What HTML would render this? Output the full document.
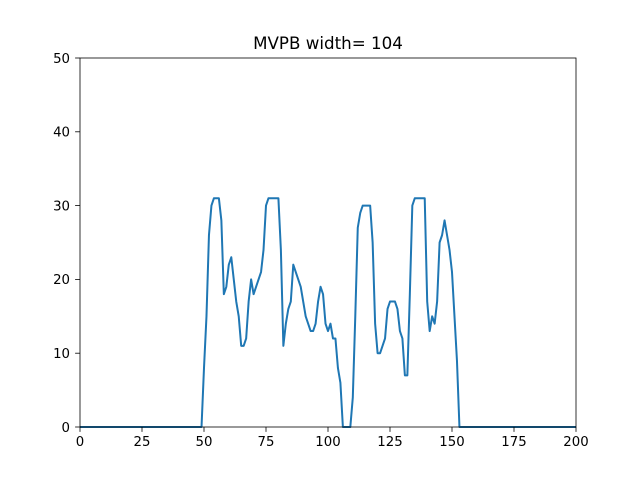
<!DOCTYPE html>
<html><head><meta charset="utf-8"><style>body{margin:0;background:#fff}svg{display:block;font-family:"DejaVu Sans","Liberation Sans",sans-serif}</style></head>
<body>
<svg id="chart" width="640" height="480">
<rect width="640" height="480" fill="#fff"/>
<text x="328" y="49" text-anchor="middle" font-size="16.7">MVPB width= 104</text>
<g id="axes"></g>
</svg>
<script>
const xTicks=[0,25,50,75,100,125,150,175,200];
const yTicks=[0,10,20,30,40,50];
const startX=49;
const values=[0,8,15,26,30,31,31,31,28,18,19,22,23,20,17,15,11,11,12,17,20,18,19,20,21,24,30,31,31,31,31,31,24,11,14,16,17,22,21,20,19,17,15,14,13,13,14,17,19,18,14,13,14,12,12,8,6,0,0,0,0,4,15,27,29,30,30,30,30,25,14,10,10,11,12,16,17,17,17,16,13,12,7,7,18,30,31,31,31,31,31,17,13,15,14,17,25,26,28,26,24,21,15,9,0];
const L=80,R=576,T=58,B=427;
const sx=v=>L+(v-0)/200*(R-L);
const sy=v=>B-(v/50)*(B-T);
const NS="http://www.w3.org/2000/svg";
const g=document.getElementById('axes');
function mk(t,a){const e=document.createElementNS(NS,t);for(const k in a)e.setAttribute(k,a[k]);g.appendChild(e);return e;}
let pts=[];
for(let x=0;x<startX;x++)pts.push([sx(x),sy(0)]);
values.forEach((v,i)=>pts.push([sx(startX+i),sy(v)]));
for(let x=startX+values.length;x<=200;x++)pts.push([sx(x),sy(0)]);
const line=mk('polyline',{points:pts.map(p=>p.join(',')).join(' '),fill:'none',stroke:'#1f77b4','stroke-width':2,'stroke-linejoin':'round'});


const frame=mk('rect',{x:L,y:T,width:R-L,height:B-T,fill:'none',stroke:'#000','stroke-width':0.8});


xTicks.forEach(t=>{
  const tk=mk('line',{x1:sx(t),x2:sx(t),y1:B,y2:B+4.9,stroke:'#000','stroke-width':0.8});
  
  
  const lb=mk('text',{x:sx(t),y:B+19,'text-anchor':'middle','font-size':13.3});
  lb.textContent=t;
  
  
});
yTicks.forEach(t=>{
  const tk=mk('line',{x1:L-4.9,x2:L,y1:sy(t),y2:sy(t),stroke:'#000','stroke-width':0.8});
  
  
  const lb=mk('text',{x:L-10,y:sy(t)+4.8,'text-anchor':'end','font-size':13.3});
  lb.textContent=t;
  
  
});
</script>
</body></html>
